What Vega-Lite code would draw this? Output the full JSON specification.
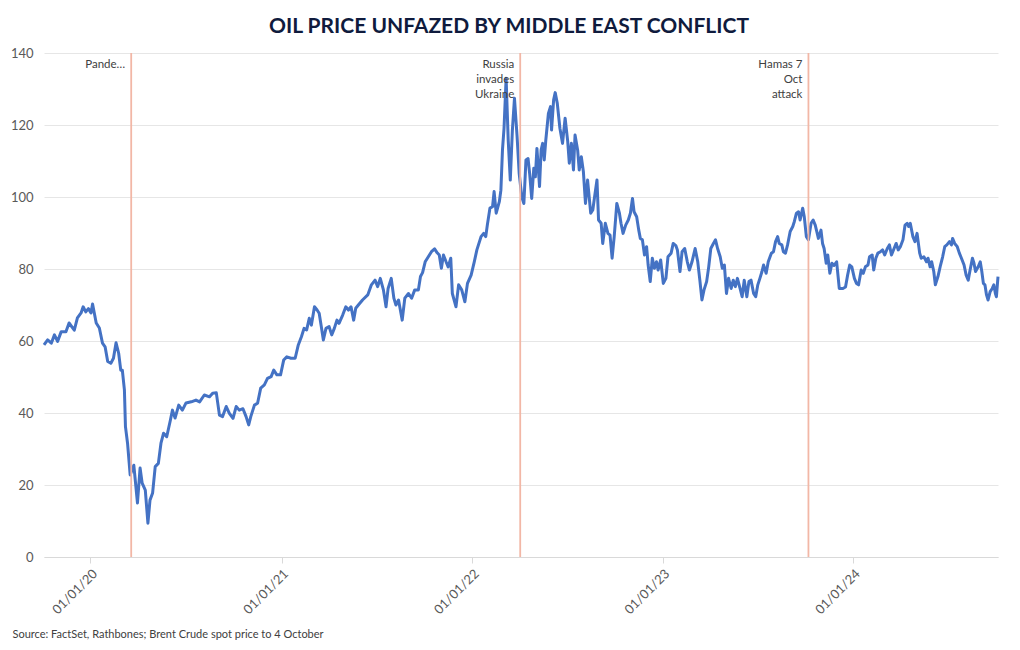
{
  "$schema": "https://vega.github.io/schema/vega-lite/v6.json",
  "width": 954,
  "height": 504,
  "autosize": "none",
  "padding": {"left": 44, "top": 53, "right": 22, "bottom": 93},
  "background": "white",
  "config": {"font": "Lato", "view": {"stroke": null}},
  "title": {
    "text": "OIL PRICE UNFAZED BY MIDDLE EAST CONFLICT",
    "font": "Lato",
    "fontSize": 21,
    "fontWeight": "bold",
    "color": "#0f1b3d",
    "anchor": "middle",
    "dx": -12,
    "offset": 10
  },
  "datasets": {
    "brent": [
      {"date":"2019-10-04","price":58.9},{"date":"2019-10-11","price":60.3},{"date":"2019-10-18","price":59.4},{"date":"2019-10-24","price":61.7},{"date":"2019-10-30","price":59.9},{"date":"2019-11-06","price":62.6},{"date":"2019-11-15","price":62.6},{"date":"2019-11-21","price":65},{"date":"2019-12-01","price":63},{"date":"2019-12-07","price":66.4},{"date":"2019-12-14","price":67.8},{"date":"2019-12-18","price":69.5},{"date":"2019-12-23","price":68.1},{"date":"2019-12-28","price":69},
      {"date":"2020-01-02","price":67.8},{"date":"2020-01-05","price":70.3},{"date":"2020-01-12","price":65},{"date":"2020-01-18","price":63.6},{"date":"2020-01-24","price":59.4},{"date":"2020-01-29","price":58.4},{"date":"2020-02-03","price":54.3},{"date":"2020-02-09","price":53.8},{"date":"2020-02-14","price":55.2},{"date":"2020-02-19","price":59.5},{"date":"2020-02-24","price":56.6},{"date":"2020-02-28","price":51.9},{"date":"2020-03-02","price":51.9},{"date":"2020-03-06","price":46.4},{"date":"2020-03-08","price":36.2},{"date":"2020-03-12","price":31.6},{"date":"2020-03-17","price":22.8},{"date":"2020-03-24","price":25.5},{"date":"2020-03-31","price":15},{"date":"2020-04-05","price":24.7},{"date":"2020-04-09","price":20.5},{"date":"2020-04-15","price":18.6},{"date":"2020-04-20","price":9.4},{"date":"2020-04-24","price":15.8},{"date":"2020-04-29","price":17.8},{"date":"2020-05-04","price":25.1},{"date":"2020-05-10","price":26},{"date":"2020-05-15","price":31.6},{"date":"2020-05-20","price":34.4},{"date":"2020-05-26","price":33.4},{"date":"2020-06-02","price":38},{"date":"2020-06-06","price":40.8},{"date":"2020-06-11","price":38.6},{"date":"2020-06-18","price":42.2},{"date":"2020-06-25","price":40.8},{"date":"2020-07-02","price":42.8},{"date":"2020-07-12","price":43.1},{"date":"2020-07-21","price":43.6},{"date":"2020-07-28","price":43.1},{"date":"2020-08-06","price":45},{"date":"2020-08-16","price":44.5},{"date":"2020-08-22","price":45.5},{"date":"2020-08-29","price":45.6},{"date":"2020-09-04","price":39.4},{"date":"2020-09-10","price":39},{"date":"2020-09-17","price":41.8},{"date":"2020-09-23","price":39.9},{"date":"2020-09-30","price":38.5},{"date":"2020-10-06","price":41.8},{"date":"2020-10-12","price":40.8},{"date":"2020-10-19","price":41.2},{"date":"2020-10-25","price":39},{"date":"2020-10-30","price":36.7},{"date":"2020-11-03","price":39},{"date":"2020-11-10","price":42.2},{"date":"2020-11-16","price":42.7},{"date":"2020-11-22","price":46.9},{"date":"2020-11-29","price":47.8},{"date":"2020-12-05","price":49.6},{"date":"2020-12-12","price":50.1},{"date":"2020-12-17","price":51.9},{"date":"2020-12-23","price":50.6},{"date":"2020-12-30","price":50.6},
      {"date":"2021-01-05","price":54.7},{"date":"2021-01-11","price":55.6},{"date":"2021-01-19","price":55.2},{"date":"2021-01-27","price":55.2},{"date":"2021-02-02","price":58.9},{"date":"2021-02-08","price":61.2},{"date":"2021-02-13","price":63.5},{"date":"2021-02-18","price":63.1},{"date":"2021-02-23","price":66.3},{"date":"2021-02-27","price":64.4},{"date":"2021-03-05","price":69.5},{"date":"2021-03-10","price":68.6},{"date":"2021-03-14","price":67.7},{"date":"2021-03-19","price":63.1},{"date":"2021-03-22","price":60.3},{"date":"2021-03-27","price":63.5},{"date":"2021-04-02","price":64},{"date":"2021-04-07","price":61.7},{"date":"2021-04-12","price":63.5},{"date":"2021-04-17","price":65.8},{"date":"2021-04-21","price":64.9},{"date":"2021-04-28","price":67.2},{"date":"2021-05-04","price":69.5},{"date":"2021-05-09","price":68.6},{"date":"2021-05-14","price":69.5},{"date":"2021-05-19","price":65.8},{"date":"2021-05-23","price":69.1},{"date":"2021-05-28","price":70},{"date":"2021-06-05","price":71.4},{"date":"2021-06-15","price":72.8},{"date":"2021-06-22","price":75.6},{"date":"2021-06-29","price":76.9},{"date":"2021-07-04","price":75.1},{"date":"2021-07-09","price":77.4},{"date":"2021-07-15","price":74.2},{"date":"2021-07-20","price":69.5},{"date":"2021-07-24","price":74.6},{"date":"2021-07-30","price":77.4},{"date":"2021-08-04","price":71.9},{"date":"2021-08-08","price":70},{"date":"2021-08-13","price":71.4},{"date":"2021-08-20","price":65.8},{"date":"2021-08-25","price":71.9},{"date":"2021-09-01","price":73.2},{"date":"2021-09-07","price":71.9},{"date":"2021-09-13","price":74.2},{"date":"2021-09-20","price":74.2},{"date":"2021-09-24","price":77.9},{"date":"2021-09-28","price":79},{"date":"2021-10-03","price":82},{"date":"2021-10-09","price":83.4},{"date":"2021-10-15","price":84.8},{"date":"2021-10-21","price":85.6},{"date":"2021-10-26","price":84.5},{"date":"2021-10-30","price":83.9},{"date":"2021-11-03","price":80.2},{"date":"2021-11-07","price":83.9},{"date":"2021-11-12","price":82},{"date":"2021-11-16","price":80.6},{"date":"2021-11-21","price":83},{"date":"2021-11-24","price":73.2},{"date":"2021-12-01","price":69.5},{"date":"2021-12-06","price":75.6},{"date":"2021-12-12","price":74.2},{"date":"2021-12-18","price":70.9},{"date":"2021-12-23","price":76},{"date":"2021-12-30","price":78.3},
      {"date":"2022-01-05","price":82},{"date":"2022-01-10","price":85.3},{"date":"2022-01-18","price":89},{"date":"2022-01-23","price":89.9},{"date":"2022-01-27","price":89},{"date":"2022-01-30","price":92.2},{"date":"2022-02-04","price":96.9},{"date":"2022-02-09","price":97.3},{"date":"2022-02-12","price":101.5},{"date":"2022-02-16","price":95.5},{"date":"2022-02-22","price":98.7},{"date":"2022-02-25","price":101.9},{"date":"2022-02-28","price":113},{"date":"2022-03-03","price":119.1},{"date":"2022-03-07","price":133},{"date":"2022-03-11","price":115.8},{"date":"2022-03-15","price":104.7},{"date":"2022-03-19","price":118.6},{"date":"2022-03-23","price":127.4},{"date":"2022-03-28","price":116.8},{"date":"2022-04-01","price":106.6},{"date":"2022-04-06","price":100},{"date":"2022-04-10","price":98.2},{"date":"2022-04-14","price":110.3},{"date":"2022-04-18","price":110.7},{"date":"2022-04-21","price":106.6},{"date":"2022-04-25","price":99.6},{"date":"2022-04-29","price":108},{"date":"2022-05-02","price":105.6},{"date":"2022-05-05","price":113.5},{"date":"2022-05-10","price":102.9},{"date":"2022-05-13","price":113},{"date":"2022-05-16","price":114.9},{"date":"2022-05-19","price":110.3},{"date":"2022-05-22","price":115.8},{"date":"2022-05-27","price":123.2},{"date":"2022-05-31","price":125.1},{"date":"2022-06-02","price":118.6},{"date":"2022-06-06","price":127},{"date":"2022-06-09","price":129},{"date":"2022-06-13","price":126},{"date":"2022-06-18","price":119.1},{"date":"2022-06-23","price":114.9},{"date":"2022-06-28","price":121.9},{"date":"2022-07-03","price":115.4},{"date":"2022-07-06","price":109.4},{"date":"2022-07-10","price":114.9},{"date":"2022-07-14","price":107.5},{"date":"2022-07-17","price":117.2},{"date":"2022-07-22","price":113},{"date":"2022-07-25","price":107.5},{"date":"2022-07-29","price":111.2},{"date":"2022-08-02","price":107},{"date":"2022-08-06","price":98.2},{"date":"2022-08-10","price":104.7},{"date":"2022-08-16","price":95.5},{"date":"2022-08-20","price":96.4},{"date":"2022-08-23","price":99.6},{"date":"2022-08-28","price":104.7},{"date":"2022-08-31","price":93.6},{"date":"2022-09-05","price":92.7},{"date":"2022-09-08","price":87.1},{"date":"2022-09-13","price":92.7},{"date":"2022-09-18","price":89.9},{"date":"2022-09-22","price":89.4},{"date":"2022-09-26","price":83},{"date":"2022-09-30","price":89},{"date":"2022-10-05","price":98.2},{"date":"2022-10-10","price":95.5},{"date":"2022-10-13","price":92.7},{"date":"2022-10-17","price":89.9},{"date":"2022-10-22","price":92.2},{"date":"2022-10-27","price":93.6},{"date":"2022-10-31","price":95.5},{"date":"2022-11-04","price":99.6},{"date":"2022-11-07","price":95.9},{"date":"2022-11-12","price":94.5},{"date":"2022-11-16","price":90.8},{"date":"2022-11-19","price":88.5},{"date":"2022-11-23","price":88.1},{"date":"2022-11-27","price":83.9},{"date":"2022-12-01","price":86.2},{"date":"2022-12-04","price":81.1},{"date":"2022-12-08","price":76.5},{"date":"2022-12-12","price":83},{"date":"2022-12-16","price":80.2},{"date":"2022-12-20","price":82},{"date":"2022-12-23","price":79.7},{"date":"2022-12-28","price":82.5},
      {"date":"2023-01-02","price":76},{"date":"2023-01-07","price":77.4},{"date":"2023-01-11","price":83.4},{"date":"2023-01-17","price":84.4},{"date":"2023-01-21","price":87.1},{"date":"2023-01-26","price":86.5},{"date":"2023-01-29","price":85.3},{"date":"2023-02-03","price":79.3},{"date":"2023-02-07","price":84.8},{"date":"2023-02-12","price":85.7},{"date":"2023-02-17","price":82},{"date":"2023-02-21","price":79.7},{"date":"2023-02-26","price":82},{"date":"2023-03-04","price":85.7},{"date":"2023-03-09","price":82},{"date":"2023-03-13","price":76.9},{"date":"2023-03-17","price":71.4},{"date":"2023-03-21","price":74.2},{"date":"2023-03-26","price":76.5},{"date":"2023-03-30","price":80.6},{"date":"2023-04-03","price":85.7},{"date":"2023-04-08","price":87.1},{"date":"2023-04-12","price":88.1},{"date":"2023-04-16","price":85.7},{"date":"2023-04-21","price":83.4},{"date":"2023-04-25","price":80.2},{"date":"2023-04-29","price":81.1},{"date":"2023-05-03","price":73.2},{"date":"2023-05-07","price":77.4},{"date":"2023-05-12","price":74.6},{"date":"2023-05-16","price":76.9},{"date":"2023-05-20","price":75.1},{"date":"2023-05-24","price":77.4},{"date":"2023-05-29","price":74.6},{"date":"2023-06-02","price":72.3},{"date":"2023-06-06","price":76.9},{"date":"2023-06-11","price":72.3},{"date":"2023-06-15","price":76.5},{"date":"2023-06-19","price":76.9},{"date":"2023-06-24","price":73.2},{"date":"2023-06-28","price":72.3},{"date":"2023-07-02","price":75.6},{"date":"2023-07-06","price":77.4},{"date":"2023-07-10","price":79.3},{"date":"2023-07-13","price":81.1},{"date":"2023-07-18","price":78.8},{"date":"2023-07-22","price":82},{"date":"2023-07-28","price":84.4},{"date":"2023-08-01","price":84.8},{"date":"2023-08-05","price":87.6},{"date":"2023-08-09","price":89},{"date":"2023-08-12","price":87.1},{"date":"2023-08-17","price":86.7},{"date":"2023-08-20","price":84.8},{"date":"2023-08-24","price":84.4},{"date":"2023-08-28","price":86.7},{"date":"2023-09-02","price":90.4},{"date":"2023-09-07","price":91.8},{"date":"2023-09-10","price":93.2},{"date":"2023-09-14","price":95.5},{"date":"2023-09-18","price":95.9},{"date":"2023-09-21","price":93.6},{"date":"2023-09-26","price":96.9},{"date":"2023-09-29","price":94.5},{"date":"2023-10-03","price":89},{"date":"2023-10-07","price":88.1},{"date":"2023-10-12","price":92.7},{"date":"2023-10-16","price":93.6},{"date":"2023-10-20","price":92.2},{"date":"2023-10-23","price":90.4},{"date":"2023-10-26","price":88.5},{"date":"2023-10-31","price":90.8},{"date":"2023-11-03","price":87.1},{"date":"2023-11-06","price":85.7},{"date":"2023-11-10","price":81.6},{"date":"2023-11-13","price":83.9},{"date":"2023-11-17","price":78.8},{"date":"2023-11-21","price":81.6},{"date":"2023-11-25","price":81},{"date":"2023-11-30","price":82},{"date":"2023-12-05","price":74.6},{"date":"2023-12-12","price":74.6},{"date":"2023-12-17","price":75},{"date":"2023-12-21","price":78.3},{"date":"2023-12-25","price":81.1},{"date":"2023-12-29","price":80.6},
      {"date":"2024-01-03","price":77.4},{"date":"2024-01-07","price":76},{"date":"2024-01-11","price":75.6},{"date":"2024-01-16","price":79.7},{"date":"2024-01-20","price":78.8},{"date":"2024-01-24","price":80.6},{"date":"2024-01-29","price":81.1},{"date":"2024-02-01","price":83.4},{"date":"2024-02-06","price":83.9},{"date":"2024-02-09","price":79.7},{"date":"2024-02-13","price":83},{"date":"2024-02-17","price":84.4},{"date":"2024-02-22","price":84.8},{"date":"2024-02-26","price":85.3},{"date":"2024-03-01","price":83.9},{"date":"2024-03-06","price":85.7},{"date":"2024-03-10","price":86.7},{"date":"2024-03-14","price":83.9},{"date":"2024-03-19","price":85.7},{"date":"2024-03-23","price":87.1},{"date":"2024-03-27","price":85.3},{"date":"2024-03-31","price":86.2},{"date":"2024-04-05","price":88.1},{"date":"2024-04-09","price":92.2},{"date":"2024-04-13","price":92.7},{"date":"2024-04-16","price":91.8},{"date":"2024-04-19","price":92.7},{"date":"2024-04-24","price":89},{"date":"2024-04-28","price":87.6},{"date":"2024-05-02","price":89.9},{"date":"2024-05-07","price":84.4},{"date":"2024-05-10","price":83},{"date":"2024-05-15","price":83.4},{"date":"2024-05-20","price":82},{"date":"2024-05-23","price":83},{"date":"2024-05-27","price":80.6},{"date":"2024-05-30","price":82},{"date":"2024-06-03","price":79.3},{"date":"2024-06-06","price":75.6},{"date":"2024-06-11","price":77.9},{"date":"2024-06-16","price":81.1},{"date":"2024-06-20","price":83.4},{"date":"2024-06-24","price":86.2},{"date":"2024-06-28","price":86.7},{"date":"2024-07-03","price":87.6},{"date":"2024-07-07","price":86.7},{"date":"2024-07-09","price":88.5},{"date":"2024-07-13","price":87.1},{"date":"2024-07-18","price":86.2},{"date":"2024-07-22","price":84.4},{"date":"2024-07-26","price":83},{"date":"2024-07-31","price":81.1},{"date":"2024-08-04","price":78.3},{"date":"2024-08-08","price":76.9},{"date":"2024-08-11","price":79.3},{"date":"2024-08-16","price":83},{"date":"2024-08-19","price":81.6},{"date":"2024-08-22","price":79.3},{"date":"2024-08-27","price":80.6},{"date":"2024-08-31","price":82},{"date":"2024-09-03","price":79.3},{"date":"2024-09-06","price":76},{"date":"2024-09-09","price":75.6},{"date":"2024-09-12","price":72.8},{"date":"2024-09-15","price":71.4},{"date":"2024-09-19","price":73.7},{"date":"2024-09-23","price":74.6},{"date":"2024-09-26","price":75.6},{"date":"2024-09-29","price":73.2},{"date":"2024-10-01","price":72.3},{"date":"2024-10-02","price":74.2},{"date":"2024-10-04","price":77.9}
    ],
    "events": [
      {"date":"2020-03-19","label":"Pande…"},
      {"date":"2022-04-03","label":"Russia\ninvades\nUkraine"},
      {"date":"2023-10-07","label":"Hamas 7\nOct\nattack"}
    ]
  },
  "layer": [
    {
      "data": {"name": "brent"},
      "mark": {"type": "line", "color": "#4472c4", "strokeWidth": 3, "strokeJoin": "round"},
      "encoding": {
        "x": {
          "field": "date",
          "type": "temporal",
          "scale": {"domain": ["2019-10-04", "2024-10-04"]},
          "axis": {
            "title": "Source: FactSet, Rathbones; Brent Crude spot price to 4 October",
            "titleFont": "Lato",
            "titleFontSize": 11,
            "titleFontWeight": "normal",
            "titleColor": "#404040",
            "titleAnchor": "start",
            "titleAlign": "left",
            "titleBaseline": "alphabetic",
            "titleX": -32,
            "titleY": 80,
            "format": "%d/%m/%y",
            "tickCount": {"interval": "year", "step": 1},
            "labelAngle": -45,
            "labelFontSize": 13,
            "labelColor": "#595959",
            "labelPadding": 4,
            "grid": false,
            "domainColor": "#d9d9d9",
            "tickColor": "#d9d9d9",
            "tickSize": 6
          }
        },
        "y": {
          "field": "price",
          "type": "quantitative",
          "scale": {"domain": [0, 140], "nice": false},
          "axis": {
            "title": null,
            "values": [0, 20, 40, 60, 80, 100, 120, 140],
            "domain": false,
            "ticks": false,
            "labelFontSize": 13,
            "labelColor": "#595959",
            "labelPadding": 11,
            "gridColor": "#e6e6e6",
            "gridWidth": 1
          }
        }
      }
    },
    {
      "data": {"name": "events"},
      "mark": {"type": "rule", "color": "#f2b7a6", "strokeWidth": 1.8},
      "encoding": {
        "x": {"field": "date", "type": "temporal"}
      }
    },
    {
      "data": {"name": "events"},
      "mark": {"type": "text", "align": "right", "baseline": "top", "dx": -6, "dy": 6, "fontSize": 11.5, "color": "#404040", "lineBreak": "\n", "lineHeight": 15},
      "encoding": {
        "x": {"field": "date", "type": "temporal"},
        "y": {"datum": 140, "type": "quantitative"},
        "text": {"field": "label"}
      }
    }
  ]
}
